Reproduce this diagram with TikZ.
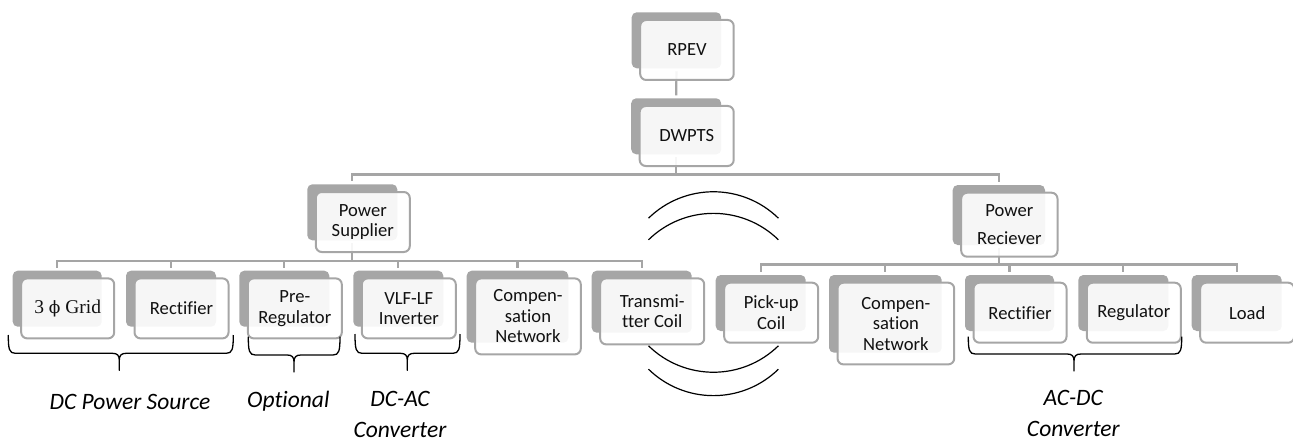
\documentclass[tikz,border=0pt]{standalone}
\usepackage{fontspec}
\setmainfont{Carlito}[Ligatures=NoCommon]
\newfontfamily\gridserif{Liberation Serif}
\newfontfamily\phifont{DejaVu Serif}
\usetikzlibrary{backgrounds}
\definecolor{boxgrey}{HTML}{A6A6A6}
\definecolor{linegrey}{HTML}{A5A5A5}
\definecolor{txt}{HTML}{111111}
\tikzset{
  backbox/.style={rectangle, rounded corners=5pt, fill=boxgrey, draw=none, inner sep=0pt, outer sep=0pt},
  frontbox/.style={rectangle, rounded corners=6pt, draw=boxgrey, line width=2pt, fill=white, fill opacity=0.9,
    text opacity=1, inner sep=0pt, outer sep=0pt, align=center, text=txt, font=\fontsize{18.6}{20.5}\selectfont},
  conn/.style={draw=linegrey, line width=2.2pt, shorten <=3pt, shorten >=3pt},
  bracestyle/.style={draw=black, line width=1.3pt, line join=round},
  capt/.style={align=center, inner sep=0pt, text=black, font=\fontsize{23.5}{31}\selectfont\itshape},
  coilarc/.style={draw=black, line width=1.2pt}
}
\newcommand\blk[6]{%
  \node[backbox, minimum width={#4pt}, minimum height={#5pt}, anchor=north west] (#1) at (#2,#3) {};
  \node[frontbox, minimum width={#4pt+4pt}, minimum height={#5pt+4pt}, anchor=north west] (#1f) at ({#2+8.5},{#3+7.7}) {#6};
}
\newcommand\capbrace[5]{%
  \draw[bracestyle] (#1,#4) .. controls (#1,{#5-4}) and ({#1+1},#5) .. ({#1+7},#5)
    -- ({#3-7},#5) .. controls ({#3-2},#5) and (#3,{#5+2}) .. (#3,{#5+7}) -- (#3,{#5+17})
    -- (#3,{#5+7}) .. controls (#3,{#5+2}) and ({#3+2},#5) .. ({#3+7},#5)
    -- ({#2-7},#5) .. controls ({#2-1},#5) and (#2,{#5-4}) .. (#2,#4);
}
\begin{document}
\begin{tikzpicture}[x=1pt,y=-1pt]
\useasboundingbox (0,0) rectangle (1293,441);

\blk{rpev}{631.7}{12.3}{89.5}{56}{RPEV}
\blk{dwpts}{631.2}{98.3}{90}{56}{DWPTS}
\blk{ps}{307.3}{184.3}{90}{56}{Power\\Supplier}
\blk{pr}{952.7}{185}{92.3}{60}{Power\\[7.8pt]Reciever}

\blk{grid}{12.7}{270.7}{89}{56}{{\gridserif\fontsize{19.5}{21}\selectfont 3 {\phifont\fontsize{17}{21}\selectfont ϕ} Grid}}
\blk{recta}{126}{270.7}{90}{56}{Rectifier}
\blk{prereg}{239.3}{270.7}{90}{56}{Pre-\\Regulator}
\blk{vlf}{353.3}{270.7}{90}{56}{VLF-LF\\Inverter}
\blk{compa}{466.7}{270.7}{101.6}{72}{Compen-\\sation\\Network}
\blk{tx}{591.7}{270.7}{100}{62}{Transmi-\\tter Coil}

\blk{pick}{715.7}{275}{90}{56}{Pick-up\\Coil}
\blk{compb}{829}{275}{112.7}{77.7}{Compen-\\sation\\Network}
\blk{rectb}{965}{275}{89}{56}{Rectifier}
\blk{reg}{1078.3}{275}{90}{56}{Regulator}
\blk{load}{1191.7}{275}{90}{56}{Load}

\coordinate (busT) at (0,174.5);
\coordinate (busL) at (0,261);
\coordinate (busR) at (0,264.5);

\begin{scope}[on background layer]
  \draw[conn] (rpev.south) -- (dwpts.north);
  \foreach \c in {ps,pr}
    \draw[conn] (dwpts.south) -- (dwpts.south |- busT) -| (\c.north);
  \foreach \c in {grid,recta,prereg,vlf,compa,tx}
    \draw[conn] (ps.south) -- (ps.south |- busL) -| (\c.north);
  \foreach \c in {pick,compb,rectb,reg,load}
    \draw[conn] (pr.south) -- (pr.south |- busR) -| (\c.north);
\end{scope}

% coil arcs
\draw[coilarc] (648.5,218.2) arc[start angle=134.3, end angle=45.7, radius=93pt];
\draw[coilarc] (648.5,239.8) arc[start angle=134.3, end angle=45.7, radius=93pt];
\draw[coilarc] (648.5,345.8) arc[start angle=225.7, end angle=314.3, radius=93pt];
\draw[coilarc] (648.5,369.2) arc[start angle=225.7, end angle=314.3, radius=93pt];

% braces
\capbrace{8.3}{233.3}{119.3}{335}{353.3}
\capbrace{248.3}{340}{294}{336.7}{355}
\capbrace{355}{460}{407.3}{334}{353.3}
\capbrace{968.3}{1181.7}{1074}{336.7}{354}

% captions
\node[capt] (cap1) at (130,401.7) {DC Power Source};
\node[capt] (cap2) at (288.3,401.7) {Optional};
\node[capt] (cap3) at (400,414) {DC-AC\\Converter};
\node[capt] (cap4) at (1073.3,413.3) {AC-DC\\Converter};
\end{tikzpicture}
\end{document}
